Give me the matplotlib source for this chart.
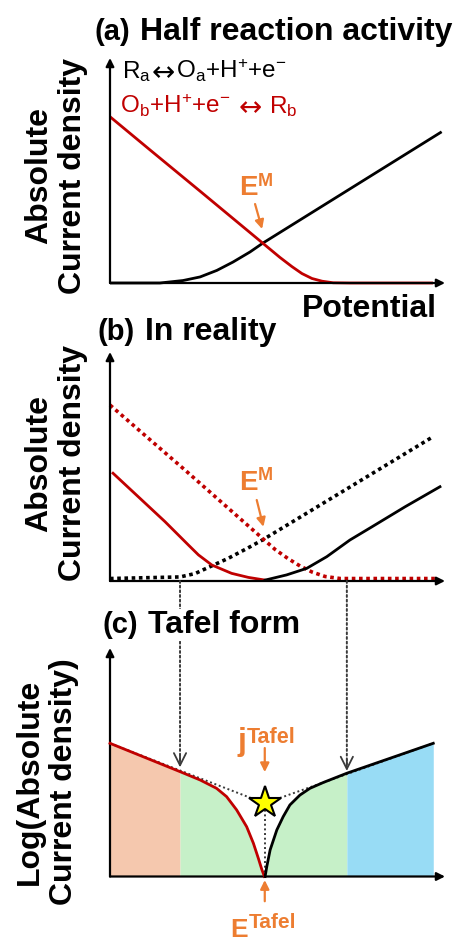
import matplotlib
matplotlib.use("Agg")
import matplotlib.pyplot as plt
import numpy as np
from matplotlib.patches import ConnectionPatch

plt.rcParams["font.family"] = ["Liberation Sans", "DejaVu Sans"]
plt.rcParams["mathtext.fontset"] = "custom"
plt.rcParams["mathtext.rm"] = "Liberation Sans"
plt.rcParams["mathtext.it"] = "Liberation Sans:italic"
plt.rcParams["mathtext.bf"] = "Liberation Sans:bold"

# Colours
RED = "#C00000"
ORANGE = "#ED7D31"
DOT_GRAY = "#3a3a3a"
REGION_COLORS = ["#F5C8AE", "#C6F0C8", "#98DCF5"]

# Figure geometry (pixels)
W, H = 460, 947
PX_PER_POT = 33.5
PX_PER_CUR = 22.5

# (a) half reactions: anodic (black) and cathodic (red) current vs potential
a_pot_red = [0, 1.19, 2.69, 4.18, 5.07, 5.43, 5.73, 6.03, 6.33, 6.66, 7.16, 9.64]
a_cur_red = [7.39, 5.92, 4.08, 2.24, 1.14, 0.73, 0.42, 0.20, 0.08, 0.01, 0, 0]
a_pot_black = [0, 1.49, 2.18, 2.69, 3.19, 3.67, 4.18, 4.57, 9.90]
a_cur_black = [0, 0, 0.11, 0.27, 0.56, 0.93, 1.38, 1.78, 6.72]

# (b) measured net current (solid) over the half reactions (dotted)
b_pot_red_dot = [0, 2.24, 4.57, 4.93, 5.31, 5.67, 6.03, 6.42, 6.87, 9.79]
b_cur_red_dot = [7.82, 4.93, 1.87, 1.40, 1.00, 0.67, 0.40, 0.20, 0.11, 0.11]
b_pot_black_dot = [0, 2.09, 2.54, 2.99, 3.52, 4.12, 4.57, 9.64]
b_cur_black_dot = [0.11, 0.18, 0.33, 0.64, 1.00, 1.47, 1.84, 6.41]
b_pot_red = [0.09, 0.84, 1.64, 2.34, 2.64, 3.04, 3.63, 4.13, 4.63]
b_cur_red = [4.79, 3.75, 2.64, 1.60, 1.16, 0.71, 0.34, 0.16, 0.04]
b_pot_black = [4.63, 5.27, 5.87, 6.47, 7.16, 7.81, 8.81, 9.85]
b_cur_black = [0.04, 0.27, 0.56, 1.08, 1.82, 2.40, 3.30, 4.19]

# (c) Tafel plot, log of absolute current
c_pot_red = [0, 2.09, 2.69, 3.18, 3.48, 3.78, 4.08, 4.28, 4.43, 4.53, 4.61]
c_cur_red = [5.92, 4.66, 4.29, 3.92, 3.55, 2.96, 2.21, 1.48, 0.80, 0.32, 0.0]
c_pot_black = [4.63, 4.68, 4.78, 4.98, 5.17, 5.37, 5.67, 5.97, 6.37, 7.07, 9.65]
c_cur_black = [0.0, 0.44, 1.18, 2.07, 2.66, 3.18, 3.62, 3.92, 4.18, 4.59, 5.92]
e_tafel = 4.62
j_tafel = 3.25
c_tangent_pot = [0, e_tafel, 9.65]
c_tangent_cur = [5.92, j_tafel, 5.92]
region_edges = [0, 2.09, 7.07, 9.65]


def fig_xy(x_px, y_px):
    return x_px / W, 1 - y_px / H


def add_panel(fig, top_px, bottom_px, left_px=110, right_px=445):
    ax = fig.add_axes([left_px / W, 1 - bottom_px / H,
                       (right_px - left_px) / W, (bottom_px - top_px) / H])
    ax.set_xlim(0, (right_px - left_px) / PX_PER_POT)
    ax.set_ylim(0, (bottom_px - top_px) / PX_PER_CUR)
    ax.axis("off")
    arrow = dict(arrowstyle="-|>", color="k", lw=1.6, mutation_scale=12,
                 shrinkA=0, shrinkB=0)
    ax.annotate("", xy=(1, 0), xytext=(0, 0), xycoords="axes fraction", arrowprops=arrow)
    ax.annotate("", xy=(0, 1), xytext=(0, 0), xycoords="axes fraction", arrowprops=arrow)
    return ax


def panel_title(fig, tag, title, tag_x, title_x, baseline):
    fig.text(*fig_xy(tag_x, baseline), tag, fontsize=21, fontweight="bold", va="baseline")
    return fig.text(*fig_xy(title_x, baseline), title, fontsize=23, fontweight="bold",
                    va="baseline")


def y_label(fig, text, x_px, y_px):
    fig.text(*fig_xy(x_px, y_px), text, rotation=90, fontsize=23, fontweight="bold",
             ha="center", va="center", multialignment="center", linespacing=1.18)


def text_run(fig, x_px, y_px, pieces, color):
    # pieces: (text, family, size, gap before in px, baseline shift in px)
    renderer = fig.canvas.get_renderer()
    for s, family, size, gap, dy in pieces:
        x_px += gap
        t = fig.text(*fig_xy(x_px, y_px + dy), s, family=family, fontsize=size,
                     color=color, va="baseline")
        x_px = t.get_window_extent(renderer).x1


def sup_label(ax, x, y_base, y_sup, base, sup, base_size=20, sup_size=13, base_va="baseline"):
    ax.text(x, y_base, base, ha="right", va=base_va, fontsize=base_size,
            fontweight="bold", color=ORANGE, clip_on=False)
    ax.text(x, y_sup, sup, ha="left", va="top", fontsize=sup_size,
            fontweight="bold", color=ORANGE, clip_on=False)


def orange_arrow(ax, start, end):
    ax.annotate("", xy=end, xytext=start, annotation_clip=False,
                arrowprops=dict(arrowstyle="-|>", color=ORANGE, lw=1.6,
                                mutation_scale=13, shrinkA=0, shrinkB=0))


fig = plt.figure(figsize=(W / 100, H / 100), dpi=100)

# ---- (a) Half reaction activity
ax_a = add_panel(fig, 58, 283)
ax_a.plot(a_pot_black, a_cur_black, color="k", lw=2.0, clip_on=False, solid_capstyle="butt")
ax_a.plot(a_pot_red, a_cur_red, color=RED, lw=2.0, clip_on=False, solid_capstyle="butt")
sup_label(ax_a, 4.40, 3.91, 4.89, "E", "M")
orange_arrow(ax_a, (4.33, 3.51), (4.54, 2.40))

panel_title(fig, "(a)", "Half reaction activity", 95, 140, 40)
LS, DJV = "Liberation Sans", "DejaVu Sans"
text_run(fig, 122, 78, [
    (r"R$_{\rm a}$", LS, 17.5, 0, 0),
    ("↔", DJV, 20, 0, 3),
    (r"O$_{\rm a}$+H$^{+}$+e$^{-}$", LS, 17.5, 1, 0),
], "k")
text_run(fig, 120, 113, [
    (r"O$_{\rm b}$+H$^{+}$+e$^{-}$", LS, 17.5, 0, 0),
    ("↔", DJV, 20, 8, 3),
    (r"R$_{\rm b}$", LS, 17.5, 7, 0),
], RED)
fig.text(*fig_xy(302, 317), "Potential", fontsize=23, fontweight="bold", va="baseline")
y_label(fig, "Absolute\nCurrent density", 56, 176)

# ---- (b) In reality
ax_b = add_panel(fig, 352, 581)
dots = (0, (1, 1.0))
ax_b.plot(b_pot_black_dot, b_cur_black_dot, color="k", lw=2.6, ls=dots, clip_on=False)
ax_b.plot(b_pot_red_dot, b_cur_red_dot, color=RED, lw=2.6, ls=dots, clip_on=False)
ax_b.plot(b_pot_red, b_cur_red, color=RED, lw=2.0, clip_on=False)
ax_b.plot(b_pot_black, b_cur_black, color="k", lw=2.0, clip_on=False)
sup_label(ax_b, 4.40, 4.04, 5.07, "E", "M")
orange_arrow(ax_b, (4.38, 3.60), (4.58, 2.41))

panel_title(fig, "(b)", "In reality", 98, 145, 340)
y_label(fig, "Absolute\nCurrent density", 56, 463)

# ---- (c) Tafel form
ax_c = add_panel(fig, 648, 876.5)
red_x = np.array(c_pot_red)
red_y = np.array(c_cur_red)
black_x = np.array(c_pot_black)
black_y = np.array(c_cur_black)
ax_c.fill_between(red_x, red_y, where=red_x <= region_edges[1], color=REGION_COLORS[0], lw=0)
ax_c.fill_between(red_x, red_y, where=red_x >= region_edges[1], color=REGION_COLORS[1], lw=0)
ax_c.fill_between(black_x, black_y, where=black_x <= region_edges[2], color=REGION_COLORS[1], lw=0)
ax_c.fill_between(black_x, black_y, where=black_x >= region_edges[2], color=REGION_COLORS[2], lw=0)

thin_dots = (0, (1, 1.4))
ax_c.plot(c_tangent_pot, c_tangent_cur, color=DOT_GRAY, lw=1.4, ls=thin_dots, zorder=3)
ax_c.plot([e_tafel, e_tafel], [0, j_tafel], color=DOT_GRAY, lw=1.4, ls=thin_dots, zorder=3)
ax_c.plot(c_pot_red, c_cur_red, color=RED, lw=2.0, zorder=4, clip_on=False)
ax_c.plot(c_pot_black, c_cur_black, color="k", lw=2.0, zorder=4, clip_on=False)
ax_c.plot(e_tafel, j_tafel, marker="*", ms=24, mfc="#FFFF00", mec="k", mew=1.5,
          zorder=5, clip_on=False)

sup_label(ax_c, 4.07, 5.62, 6.64, "j", "Tafel", base_size=23, sup_size=15.5)
orange_arrow(ax_c, (e_tafel, 5.71), (e_tafel, 4.64))
sup_label(ax_c, 4.13, -1.85, -1.62, "E", "Tafel", base_size=19, sup_size=15, base_va="top")
orange_arrow(ax_c, (e_tafel, -1.10), (e_tafel, -0.16))

# dotted guides from the linear regions in (b) down to the Tafel lines in (c)
for x in region_edges[1:3]:
    tip = np.interp(x, c_tangent_pot, c_tangent_cur) + 0.14
    con = ConnectionPatch(xyA=(x, 0), coordsA=ax_b.transData,
                          xyB=(x, tip + 0.3), coordsB=ax_c.transData,
                          color=DOT_GRAY, lw=1.4, ls=thin_dots, zorder=1)
    fig.add_artist(con)
    ax_c.annotate("", xy=(x, tip), xytext=(x, tip + 0.5), annotation_clip=False,
                  arrowprops=dict(arrowstyle="->", color=DOT_GRAY, lw=1.3,
                                  mutation_scale=22, shrinkA=0, shrinkB=0))

t = panel_title(fig, "(c)", "Tafel form", 103, 148, 633)
t.set_bbox(dict(facecolor="white", edgecolor="none", pad=1))
t.set_zorder(5)
y_label(fig, "Log(Absolute\nCurrent density)", 47, 782)

fig.savefig("out.png", dpi=100, facecolor="white")
